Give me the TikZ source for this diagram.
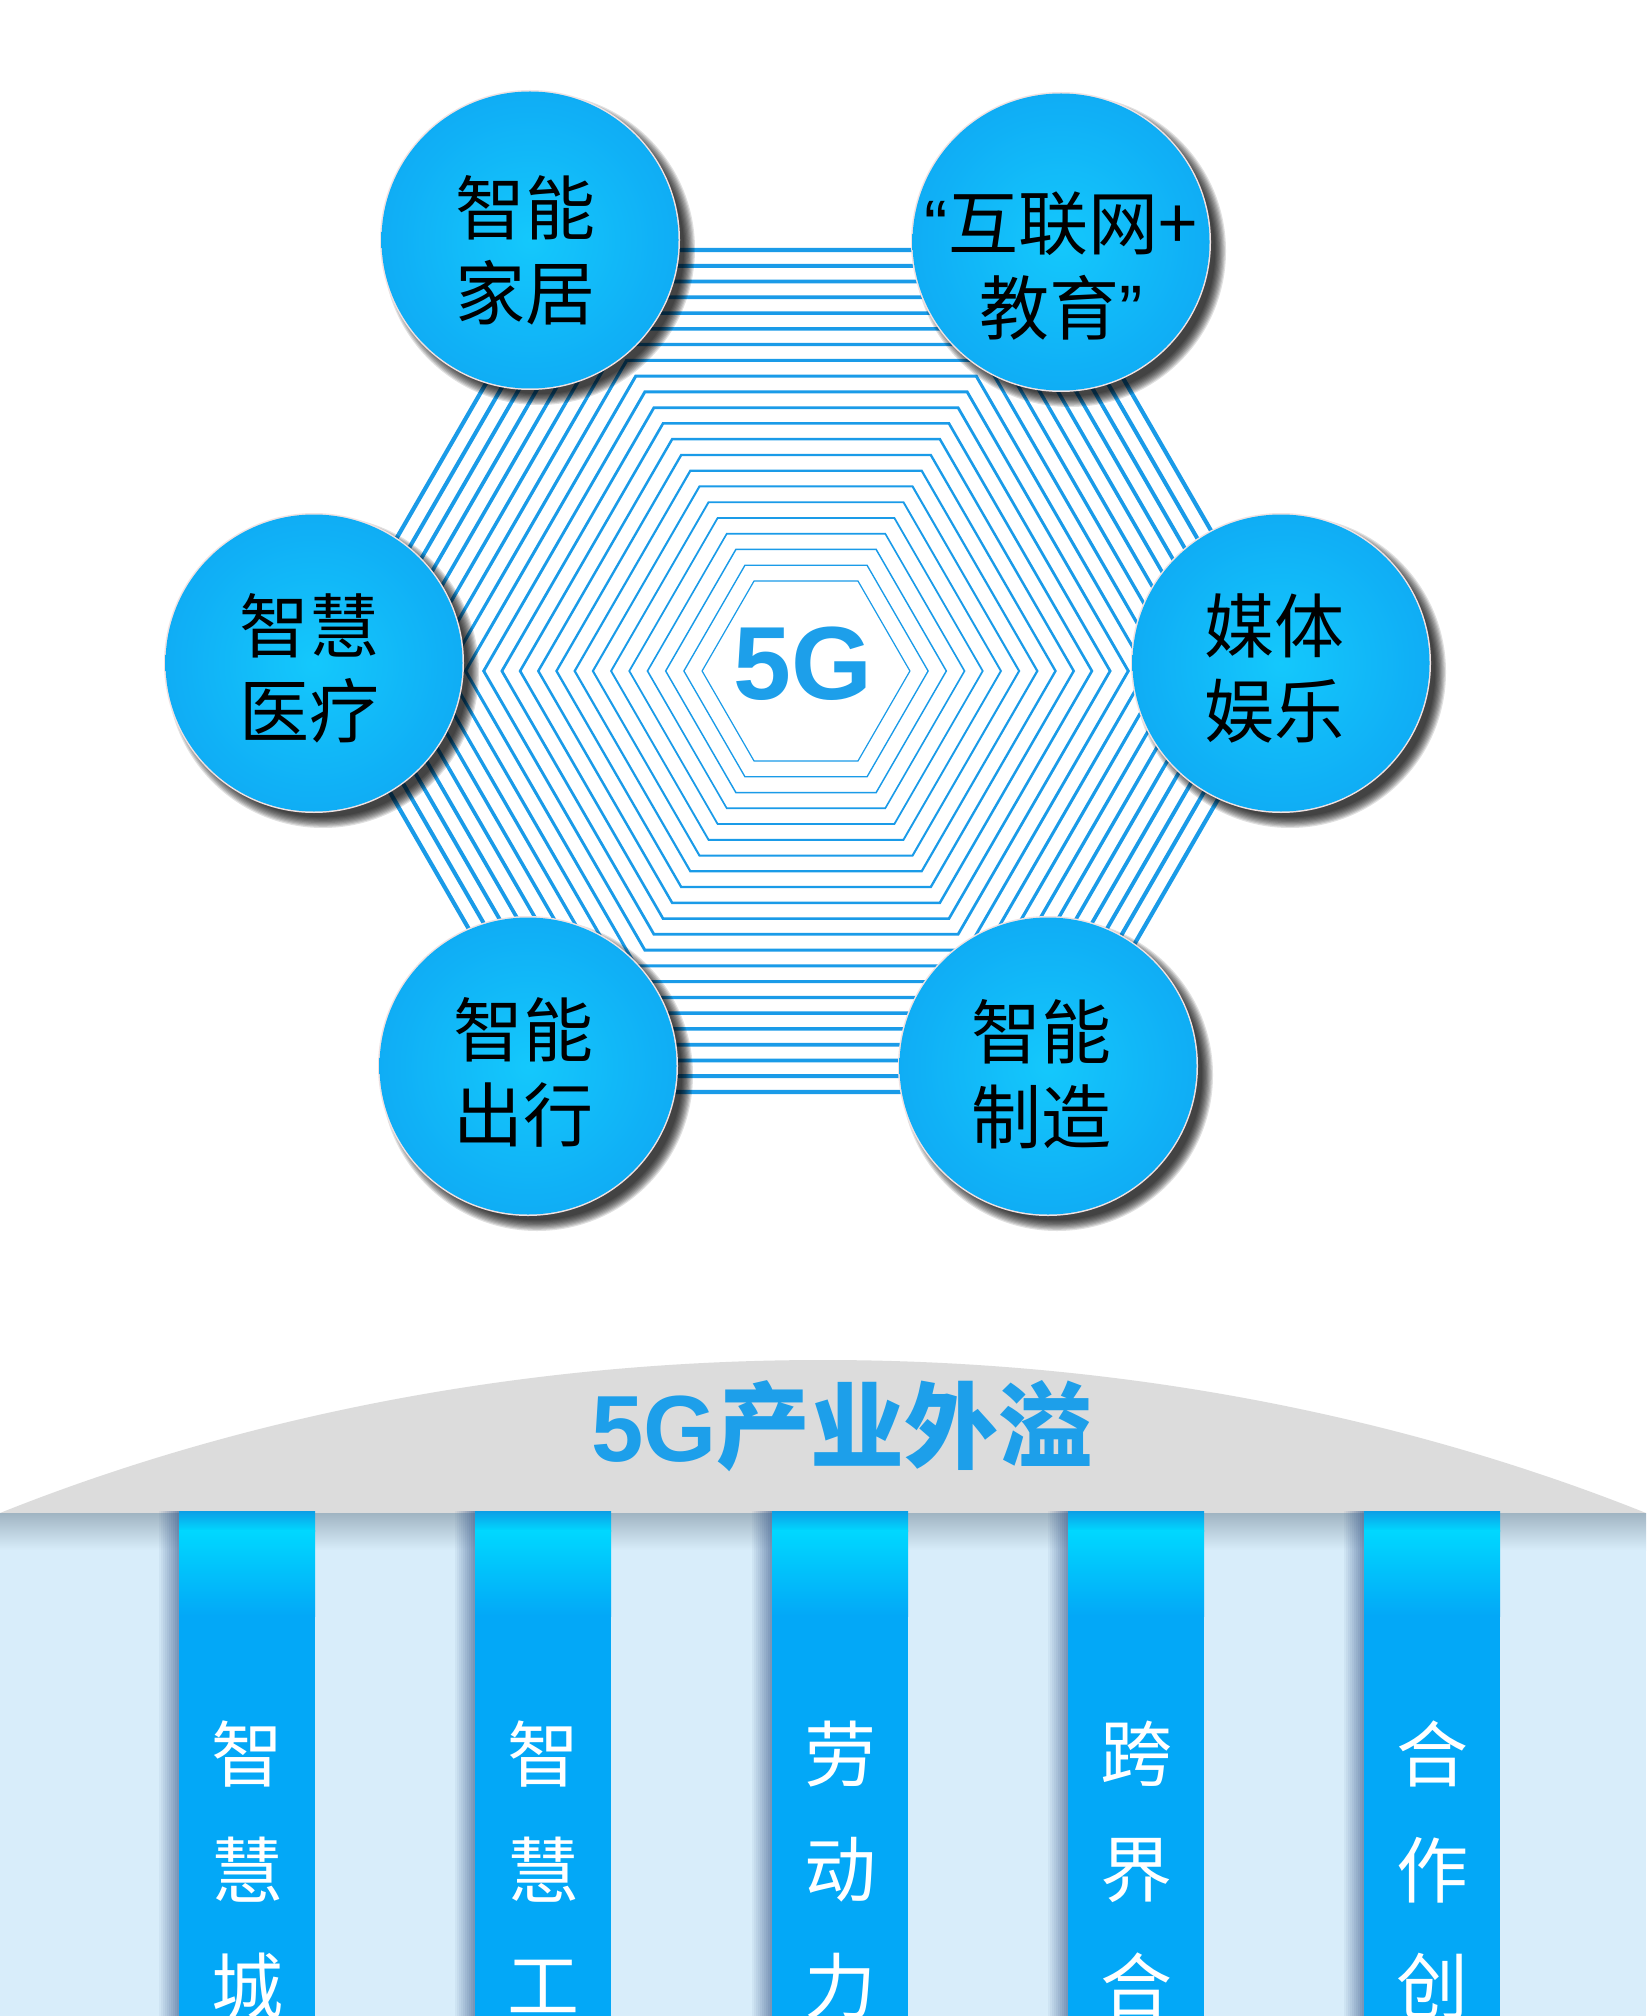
\documentclass[tikz,border=0pt]{standalone}
\usepackage{fontspec}
\newfontfamily\cjk{Noto Sans CJK SC}
\newfontfamily\lib{Liberation Sans}
\definecolor{hexline}{RGB}{26,155,232}
\definecolor{ballin}{RGB}{20,200,252}
\definecolor{ballmid}{RGB}{16,176,246}
\definecolor{ballout}{RGB}{10,150,236}
\definecolor{rimc}{RGB}{240,226,226}
\definecolor{fiveg}{RGB}{29,159,234}
\definecolor{domegray}{RGB}{220,220,220}
\definecolor{bandblue}{RGB}{216,237,250}
\definecolor{bandtop}{RGB}{160,180,194}
\definecolor{ribdark}{RGB}{12,158,230}
\definecolor{ribcyan}{RGB}{0,216,255}
\definecolor{ribblue}{RGB}{3,168,247}
\definecolor{ribshadow}{RGB}{60,92,140}
\pgfdeclareradialshading{ballshade}{\pgfpoint{0bp}{0bp}}{color(0bp)=(ballin); color(22bp)=(ballmid); color(50bp)=(ballout)}
\tikzset{
  bubtext/.style={font=\cjk\fontsize{35}{42.5}\selectfont, align=center, text=black, inner sep=0pt},
  ribtext/.style={font=\cjk\fontsize{36}{36}\selectfont, text=white, inner sep=0pt},
  titletext/.style={font=\cjk\bfseries\fontsize{47}{47}\selectfont, text=fiveg, inner sep=0pt},
  fivegtext/.style={font=\lib\bfseries\fontsize{52}{52}\selectfont, text=fiveg, inner sep=0pt}
}
\newcommand\bubble[6]{%
  \foreach \s in {0,...,9}{\fill[black,opacity=0.12] ({#2+9},{#3+9}) circle[radius={156-\s*1.2}];}
  \fill[rimc] (#2,#3) circle[radius=150];
  \shade[shading=ballshade] (#2,#3) circle[radius=148.5];
  \node[bubtext] (#1) at (#5,#6) {#4};
}
\newcommand\ribbon[5]{%
  \foreach \i [evaluate=\i as \op using 0.06*(\i+1)] in {0,...,9}
    {\fill[ribshadow, opacity=\op] ({#2-88+\i*2},1511) rectangle ({#2-86+\i*2},2016);}
  \shade[top color=ribdark, bottom color=ribcyan] ({#2-68},1511) rectangle ({#2+68},1531);
  \shade[top color=ribcyan, bottom color=ribblue] ({#2-68},1530) rectangle ({#2+68},1616);
  \fill[ribblue] ({#2-68},1615) rectangle ({#2+68},2016);
  \node[ribtext] (#1a) at (#2,1754) {#3};
  \node[ribtext] (#1b) at (#2,1870) {#4};
  \node[ribtext] (#1c) at (#2,1986) {#5};
}
\begin{document}
\begin{tikzpicture}[x=0.5pt,y=-0.5pt]
\useasboundingbox (0,0) rectangle (1646,2016);
\fill[white] (0,0) rectangle (1646,2016);
% concentric hexagons
\foreach \k in {0,...,21}{
  \pgfmathsetmacro{\h}{90+\k*15.76}
  \pgfmathsetmacro{\R}{\h*1.1547}
  \pgfmathsetmacro{\lw}{0.6+\k*0.07}
  \draw[hexline, line width=\lw pt, line join=miter]
    ({806-\R},671) -- ({806-\R/2},{671-\h}) -- ({806+\R/2},{671-\h}) --
    ({806+\R},671) -- ({806+\R/2},{671+\h}) -- ({806-\R/2},{671+\h}) -- cycle;
}
\node[fivegtext] (fiveg) at (803,664) {5G};
% bubbles
\bubble{home}{530}{240}{智能\\家居}{525}{250}
\bubble{edu}{1061}{242}{{\lib “}互联网+\\教育{\lib ”}}{1061}{266}
\bubble{med}{314}{663}{智慧\\医疗}{309}{668}
\bubble{media}{1281}{663}{媒体\\娱乐}{1274}{668}
\bubble{travel}{528}{1066}{智能\\出行}{523}{1072}
\bubble{manu}{1048}{1066}{智能\\制造}{1041}{1074}
% bottom part
\begin{scope}
\clip (0,0) rectangle (1646,2016);
\fill[domegray] (0,1513) .. controls (220,1425) and (500,1360) .. (823,1360)
   .. controls (1146,1360) and (1426,1425) .. (1646,1513) -- cycle;
\node[titletext] (title) at (842,1426) {{\lib\bfseries 5G}产业外溢};
\fill[bandblue] (0,1513) rectangle (1646,2016);
\shade[top color=bandtop, bottom color=bandblue] (0,1513) rectangle (1646,1550);
\ribbon{ra}{247}{智}{慧}{城}
\ribbon{rb}{543}{智}{慧}{工}
\ribbon{rc}{840}{劳}{动}{力}
\ribbon{rd}{1136}{跨}{界}{合}
\ribbon{re}{1432}{合}{作}{创}
\end{scope}
\end{tikzpicture}
\end{document}
